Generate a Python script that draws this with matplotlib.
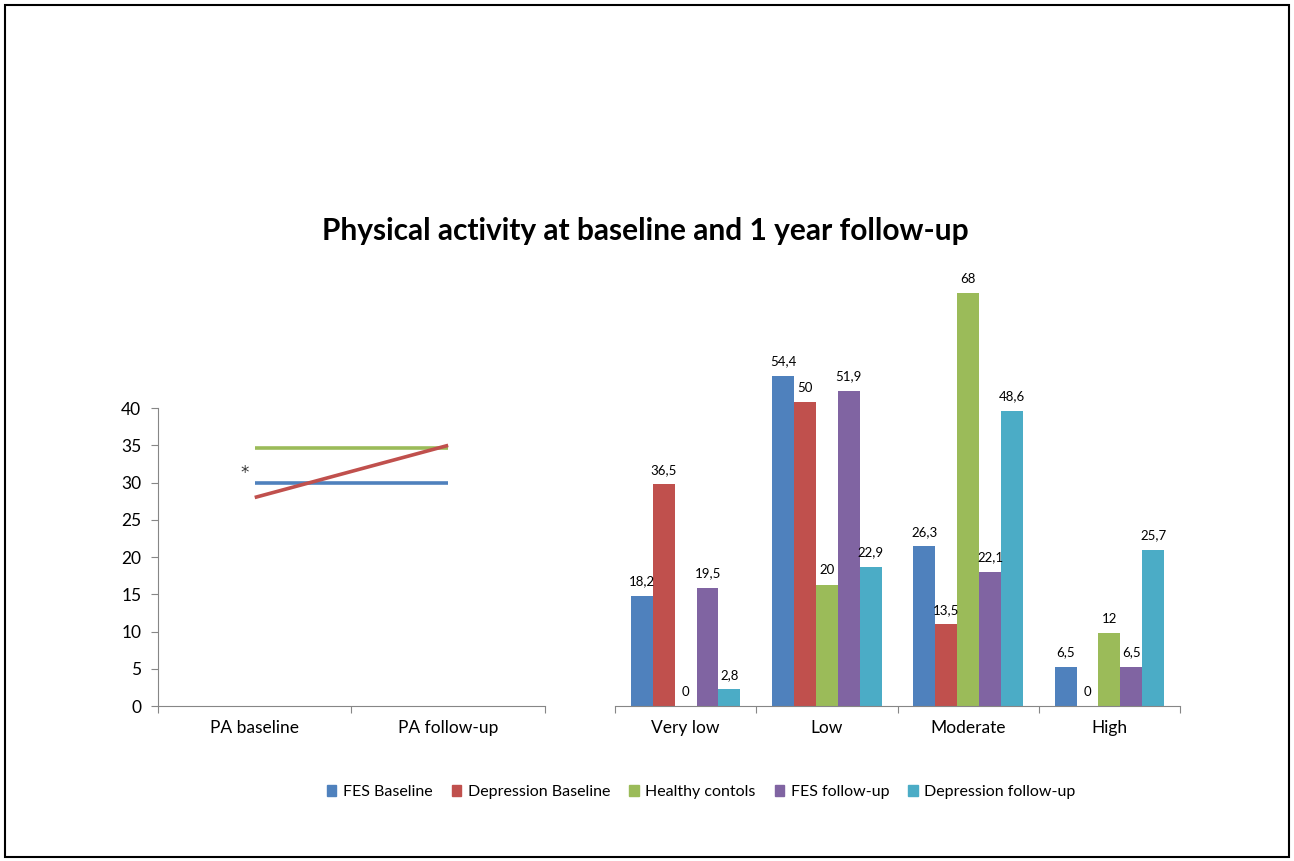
import numpy as np
import matplotlib
matplotlib.use("Agg")
import matplotlib.pyplot as plt
from matplotlib.patches import Patch, Rectangle

plt.rcParams.update({"font.family": ["Lato", "DejaVu Sans"], "font.size": 12.5})

# left panel: mean PA score
pa_labels = ["PA baseline", "PA follow-up"]
pa_fes = [29.9, 29.9]
pa_dep = [28.0, 35.0]
pa_hc = [34.7, 34.7]

# right panel: PA categories (%)
categories = ["Very low", "Low", "Moderate", "High"]
series = ["FES Baseline", "Depression Baseline", "Healthy contols",
          "FES follow-up", "Depression follow-up"]
fes_base = [18.2, 54.4, 26.3, 6.5]
dep_base = [36.5, 50, 13.5, 0]
healthy = [0, 20, 68, 12]
fes_fu = [19.5, 51.9, 22.1, 6.5]
dep_fu = [2.8, 22.9, 48.6, 25.7]

BLUE, RED, GREEN, PURPLE, CYAN = "#4F81BD", "#C0504D", "#9BBB59", "#8064A2", "#4BACC6"
colors = [BLUE, RED, GREEN, PURPLE, CYAN]
AX = "#868686"

fig = plt.figure(figsize=(12.94, 8.61), dpi=100)
fig.patches.append(Rectangle((0.004, 0.005), 0.992, 0.989, transform=fig.transFigure,
                             fill=False, ec="black", lw=1.5))

fig.text(0.4985, 0.732, "Physical activity at baseline and 1 year follow-up",
         ha="center", va="center", fontsize=21.5, fontweight="bold")

# (a) line chart
axL = fig.add_axes([0.1221, 0.18, 0.299, 0.346])
x = np.arange(len(pa_labels))
axL.plot(x, pa_fes, color=BLUE, lw=2.6, solid_capstyle="butt")
axL.plot(x, pa_hc, color=GREEN, lw=2.6, solid_capstyle="butt")
axL.plot(x, pa_dep, color=RED, lw=2.6, solid_capstyle="butt")
axL.text(-0.05, 31.3, "*", ha="center", va="center", fontsize=12,
         family="DejaVu Sans", color="#333333")
axL.set_xlim(-0.5, 1.5)
axL.set_ylim(0, 40)
axL.set_yticks(range(0, 41, 5))
axL.set_xticks([-0.5, 0.5, 1.5])
axL.set_xticklabels([])
axL.set_xticks(x, minor=True)
axL.set_xticklabels(pa_labels, minor=True)
axL.tick_params(axis="x", which="minor", length=0, pad=10)
axL.tick_params(axis="x", which="major", length=5, color=AX)
axL.tick_params(axis="y", length=5, color=AX, pad=7)
for s in ["top", "right"]:
    axL.spines[s].set_visible(False)
for s in ["left", "bottom"]:
    axL.spines[s].set_color(AX)

# (b) grouped bars
axR = fig.add_axes([0.4753, 0.18, 0.4366, 0.4936])
xc = np.arange(len(categories))
w = 0.155
for i, (vals, col) in enumerate(zip([fes_base, dep_base, healthy, fes_fu, dep_fu], colors)):
    pos = xc + (i - 2) * w
    axR.bar(pos, vals, width=w, color=col)
    for p, v in zip(pos, vals):
        axR.annotate(f"{v:g}".replace(".", ","), (p, v), xytext=(0, 6),
                     textcoords="offset points", ha="center", va="bottom", fontsize=9.5)
axR.set_xlim(-0.5, 3.5)
axR.set_ylim(0, 70)
axR.set_yticks([])
axR.set_xticks(np.arange(-0.5, 4, 1))
axR.set_xticklabels([])
axR.set_xticks(xc, minor=True)
axR.set_xticklabels(categories, minor=True)
axR.tick_params(axis="x", which="minor", length=0, pad=10)
axR.tick_params(axis="x", which="major", length=5, color=AX)
for s in ["top", "right", "left"]:
    axR.spines[s].set_visible(False)
axR.spines["bottom"].set_color(AX)

handles = [Patch(color=c, label=l) for c, l in zip(colors, series)]
fig.legend(handles=handles, loc="center", bbox_to_anchor=(0.542, 0.08), ncol=5,
           frameon=False, handlelength=0.6, handleheight=0.6, handletextpad=0.4,
           columnspacing=1.2, fontsize=11.5)

fig.savefig("out.png", dpi=100)
